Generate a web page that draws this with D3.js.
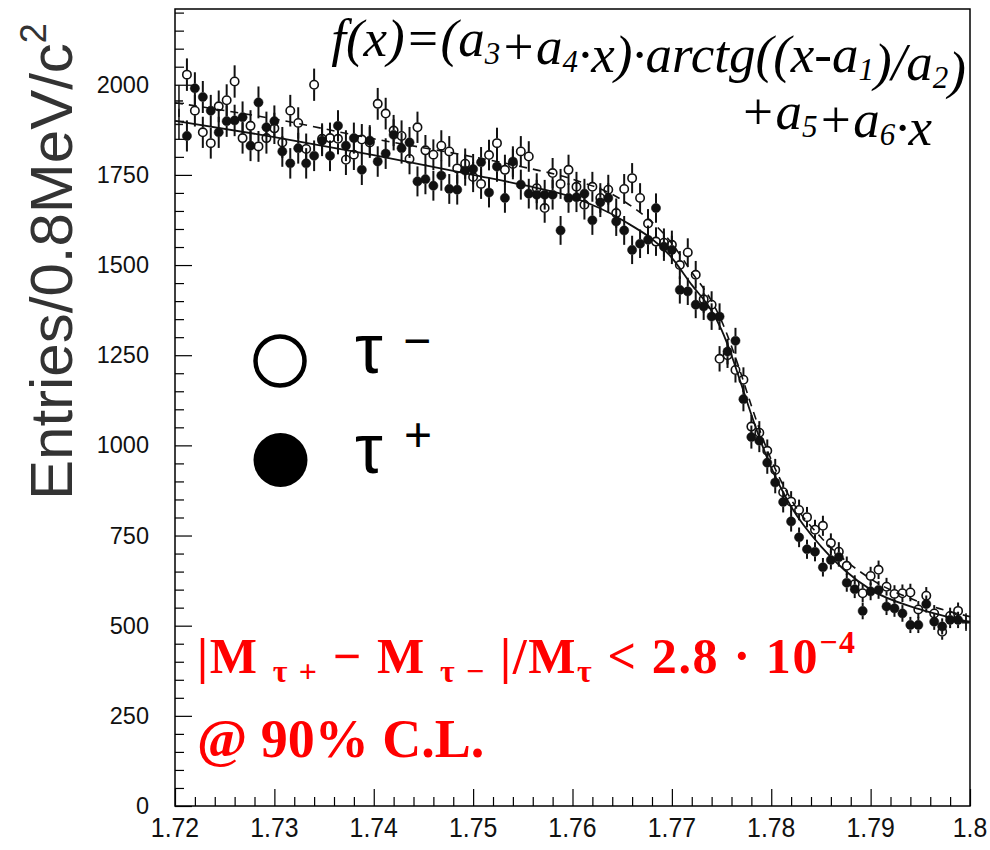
<!DOCTYPE html>
<html>
<head>
<meta charset="utf-8">
<script src="https://cdn.jsdelivr.net/npm/d3@7"></script>
<style>
  html, body { margin: 0; padding: 0; background: #fff; }
  svg { display: block; }
</style>
</head>
<body>
<svg id="chart" width="990" height="850"></svg>
<script>
// ---------------- DATA ----------------
const xMin = 1.72, xMax = 1.80, binWidth = 0.0008;
const xTickLabels = ["1.72","1.73","1.74","1.75","1.76","1.77","1.78","1.79","1.8"];
const yTickLabels = ["0","250","500","750","1000","1250","1500","1750","2000"];

// tau- (open circles), 100 bins of 0.8 MeV
const tauMinus = [
  1955,2028,1928,1868,1838,1940,1957,2009,1852,1886,
  1829,1852,1879,1840,1928,1894,1822,2000,1850,1852,
  1850,1792,1806,1848,1840,1947,1920,1873,1858,1794,
  1882,1818,1806,1831,1815,1768,1781,1744,1725,1805,
  1838,1764,1780,1815,1801,1713,1658,1755,1725,1764,
  1717,1667,1717,1686,1709,1644,1711,1741,1686,1615,
  1565,1562,1556,1500,1535,1473,1405,1390,1240,1250,
  1209,1182,1052,1035,985,932,870,844,821,801,
  766,777,729,705,666,615,590,638,655,608,
  588,590,592,545,583,534,483,527,541,512
];
// tau+ (filled circles)
const tauPlus = [
  1890,1858,1990,1966,1928,1868,1899,1901,1910,1831,
  1951,1882,1899,1815,1782,1824,1782,1803,1845,1803,
  1886,1831,1852,1764,1845,1787,1809,1861,1824,1840,
  1732,1738,1720,1748,1711,1709,1762,1766,1785,1701,
  1773,1686,1787,1723,1698,1695,1695,1695,1596,1686,
  1688,1698,1624,1674,1686,1621,1596,1542,1559,1570,
  1658,1551,1542,1431,1427,1390,1385,1357,1357,1260,
  1290,1128,1023,1013,952,897,843,789,745,712,
  705,662,682,690,619,601,541,595,599,553,
  548,534,502,502,560,511,498,516,516,508
];

// fit curves
const fitX = [1.72,1.73,1.74,1.75,1.755,1.76,1.765,1.77,1.772,1.774,1.775,1.776,1.777,1.778,1.779,1.78,1.782,1.785,1.79,1.795,1.80];
const fitPlus  = [1900,1855,1805,1750,1722,1688,1625,1520,1445,1373,1320,1250,1168,1085,1007,938,830,720,600,545,510];
const fitMinus = [1950,1905,1850,1800,1772,1738,1680,1560,1480,1400,1345,1275,1195,1110,1030,960,850,745,630,565,525];

// ---------------- CHART ----------------
const svg = d3.select("#chart");
const L = 175, R = 970, T = 9, B = 806;
const x = d3.scaleLinear().domain([xMin, xMax]).range([L, R]);
const y = d3.scaleLinear().domain([0, 2210]).range([B, T]);

const font = "'Liberation Sans', Arial, Helvetica, sans-serif";
const serif = "'Liberation Serif', 'Times New Roman', serif";

// frame
svg.append("rect").attr("x", L).attr("y", T).attr("width", R - L).attr("height", B - T)
  .attr("fill", "none").attr("stroke", "#000").attr("stroke-width", 1.5);

// x axis
const xAxis = d3.axisBottom(x)
  .tickValues(d3.range(0, 41).map(i => xMin + i * 0.002))
  .tickSize(0).tickFormat("");
const gx = svg.append("g").attr("transform", `translate(0,${B})`).call(xAxis);
gx.select(".domain").remove();
gx.selectAll(".tick line").attr("y1", 0)
  .attr("y2", (d, i) => (i % 5 === 0 ? -17 : -9))
  .attr("stroke", "#000").attr("stroke-width", 1.2);
svg.append("g").selectAll("text").data(xTickLabels).join("text")
  .attr("x", d => x(+d)).attr("y", 837)
  .attr("text-anchor", "middle")
  .attr("font-family", font).attr("font-size", 27)
  .attr("transform", d => `translate(${x(+d)},0) scale(0.92,1) translate(${-x(+d)},0)`)
  .attr("fill", "#111")
  .text(d => d);

// y axis
const yAxis = d3.axisLeft(y)
  .tickValues(d3.range(0, 45).map(i => i * 50))
  .tickSize(0).tickFormat("");
const gy = svg.append("g").attr("transform", `translate(${L},0)`).call(yAxis);
gy.select(".domain").remove();
gy.selectAll(".tick line").attr("x1", 0)
  .attr("x2", (d) => (d % 250 === 0 ? 17 : 9))
  .attr("stroke", "#000").attr("stroke-width", 1.2);
svg.append("g").selectAll("text").data(yTickLabels).join("text")
  .attr("x", 149).attr("y", d => y(+d) + 8)
  .attr("text-anchor", "end")
  .attr("font-family", font).attr("font-size", 23.5)
  .attr("fill", "#111")
  .text(d => d);

// y title
const yt = svg.append("text")
  .attr("transform", "translate(72,500) rotate(-90)")
  .attr("font-family", font).attr("font-size", 60)
  .attr("fill", "#333");
yt.append("tspan").text("Entries/0.8MeV/c");
yt.append("tspan").attr("font-size", 36).attr("dy", -26).text("2");

// data points
const binX = i => x(xMin + binWidth * (i + 0.5));
const r = 4.6;
function drawSeries(vals, filled) {
  const g = svg.append("g");
  vals.forEach((v, i) => {
    const cx = binX(i), cy = y(v);
    const e = Math.sqrt(v);
    const edge = (i === 0 || i === vals.length - 1);
    if (edge) {
      g.append("line").attr("x1", cx).attr("x2", cx).attr("y1", y(v + e)).attr("y2", y(v - e))
        .attr("stroke", "#111").attr("stroke-width", 1.5);
      g.append("line").attr("x1", cx - 4).attr("x2", cx + 4).attr("y1", cy).attr("y2", cy)
        .attr("stroke", "#111").attr("stroke-width", 1.5);
      return;
    }
    g.append("line").attr("x1", cx).attr("x2", cx).attr("y1", y(v + e)).attr("y2", cy - r)
      .attr("stroke", "#111").attr("stroke-width", 2);
    g.append("line").attr("x1", cx).attr("x2", cx).attr("y1", cy + r).attr("y2", y(v - e))
      .attr("stroke", "#111").attr("stroke-width", 2);
    g.append("circle").attr("cx", cx).attr("cy", cy).attr("r", filled ? r : r - 0.4)
      .attr("fill", filled ? "#111" : "none")
      .attr("stroke", "#111").attr("stroke-width", filled ? 0.5 : 1.6);
  });
}
drawSeries(tauMinus, false);
drawSeries(tauPlus, true);

// fit curves
const line = d3.line().x(d => x(d[0])).y(d => y(d[1])).curve(d3.curveMonotoneX);
svg.append("path").datum(fitX.map((d, i) => [d, fitMinus[i]]))
  .attr("d", line).attr("fill", "none").attr("stroke", "#111")
  .attr("stroke-width", 1.6).attr("stroke-dasharray", "8,6");
svg.append("path").datum(fitX.map((d, i) => [d, fitPlus[i]]))
  .attr("d", line).attr("fill", "none").attr("stroke", "#111")
  .attr("stroke-width", 1.8);

// formula
const fs = 53, subFs = 31, subDy = 8;
function sub(t, s) { t.append("tspan").attr("font-size", subFs).attr("dy", subDy).text(s); t.append("tspan").attr("dy", -subDy).text(""); }
const f1 = svg.append("text").attr("x", 966).attr("y", 56).attr("text-anchor", "end")
  .attr("font-family", serif).attr("font-style", "italic").attr("font-size", fs).attr("fill", "#000");
f1.append("tspan").text("f(x)=(a");
sub(f1, "3");
f1.append("tspan").text("+a");
sub(f1, "4");
f1.append("tspan").text("·x)·arctg((x-a");
sub(f1, "1");
f1.append("tspan").text(")/a");
sub(f1, "2");
f1.append("tspan").text(")");
const f2 = svg.append("text").attr("x", 932).attr("y", 129).attr("text-anchor", "end")
  .attr("font-family", serif).attr("font-style", "italic").attr("font-size", fs).attr("fill", "#000");
f2.append("tspan").text("+a");
sub(f2, "5");
f2.append("tspan").text("+a");
sub(f2, "6");
f2.append("tspan").text("·x");

// legend
svg.append("circle").attr("cx", 280).attr("cy", 361).attr("r", 24.5)
  .attr("fill", "#fff").attr("stroke", "#000").attr("stroke-width", 4.5);
svg.append("circle").attr("cx", 280.5).attr("cy", 460).attr("r", 27).attr("fill", "#000");
svg.append("text").attr("x", 355).attr("y", 373)
  .attr("font-family", font).attr("font-size", 70).attr("fill", "#000").text("τ");
svg.append("text").attr("x", 403).attr("y", 357)
  .attr("font-family", font).attr("font-size", 48).attr("fill", "#000").text("−");
svg.append("text").attr("x", 355).attr("y", 473)
  .attr("font-family", font).attr("font-size", 70).attr("fill", "#000").text("τ");
svg.append("text").attr("x", 404).attr("y", 451)
  .attr("font-family", font).attr("font-size", 48).attr("fill", "#000").text("+");

// red statement
const red = "#ff0000";
const t1 = svg.append("text").attr("x", 197).attr("y", 673)
  .attr("font-family", serif).attr("font-weight", "bold").attr("font-size", 50).attr("fill", red)
  .attr("textLength", 658).attr("lengthAdjust", "spacing");
t1.append("tspan").text("|M ");
t1.append("tspan").attr("font-size", 32).attr("dy", 9).text("τ +");
t1.append("tspan").attr("dy", -9).text(" − M ");
t1.append("tspan").attr("font-size", 32).attr("dy", 9).text("τ −");
t1.append("tspan").attr("dy", -9).text(" |/M");
t1.append("tspan").attr("font-size", 32).attr("dy", 9).text("τ");
t1.append("tspan").attr("dy", -9).text(" < 2.8 · 10");
t1.append("tspan").attr("font-size", 32).attr("dy", -20).text("−4");
svg.append("text").attr("x", 197).attr("y", 757)
  .attr("font-family", serif).attr("font-weight", "bold").attr("font-size", 54).attr("fill", red)
  .text("@ 90% C.L.");
</script>
</body>
</html>
